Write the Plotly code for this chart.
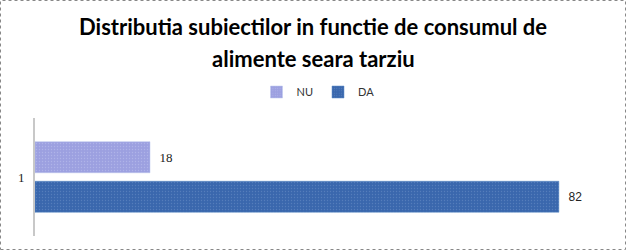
import plotly.graph_objects as go

categories = ["1"]
da_values = [82]
nu_values = [18]
title_lines = ["Distributia subiectilor in functie de consumul de", "alimente seara tarziu"]

colors = {"NU": "#9ca0e0", "DA": "#3a67ad"}

PLOT_TOP, PLOT_BOTTOM = 118, 236
H = PLOT_BOTTOM - PLOT_TOP


def py(px):
    return (PLOT_BOTTOM - px) / H


fig = go.Figure()
fig.add_trace(go.Bar(
    y=categories, x=da_values, name="DA", orientation="h",
    marker=dict(color=colors["DA"], line=dict(color="#5b8ac4", width=0.5),
                pattern=dict(shape=".", fgcolor="#6f93c9", size=3, solidity=0.15)),
    texttemplate="  %{x}", textposition="outside",
    textfont=dict(family="Liberation Sans", size=12, color="#222"),
    cliponaxis=False,
))
fig.add_trace(go.Bar(
    y=categories, x=nu_values, name="NU", orientation="h",
    marker=dict(color=colors["NU"], line=dict(color="#b8c4ec", width=0.5),
                pattern=dict(shape=".", fgcolor="#c2c6ef", size=3, solidity=0.15)),
    texttemplate="  %{x}", textposition="outside",
    textfont=dict(family="Liberation Serif", size=13, color="#222"),
    cliponaxis=False,
))

annotations = []
for i, line in enumerate(title_lines):
    annotations.append(dict(
        text="<b>" + line + "</b>", xref="paper", yref="paper",
        x=(313 - 35) / 575, xanchor="center", y=py(26 + 32 * i), yanchor="middle",
        showarrow=False, font=dict(family="Lato", size=22, color="#000"),
    ))

fig.update_layout(
    width=626, height=250,
    margin=dict(l=35, r=16, t=PLOT_TOP, b=250 - PLOT_BOTTOM),
    paper_bgcolor="white", plot_bgcolor="white",
    barmode="group", bargap=0.33, bargroupgap=0.215,
    annotations=annotations,
    legend=dict(orientation="h", x=(318 - 35) / 575, xanchor="center", y=py(92), yanchor="middle",
                traceorder="reversed", font=dict(family="Lato", size=11, color="#333"),
                itemwidth=30, bgcolor="rgba(0,0,0,0)"),
    xaxis=dict(range=[0, 90], showgrid=False, showticklabels=False, zeroline=False,
               showline=False, ticks=""),
    yaxis=dict(showgrid=False, showline=True, linecolor="#c8c8c8", linewidth=2,
               ticks="", tickfont=dict(family="Liberation Serif", size=13, color="#222"),
               ticklabelstandoff=6),
    shapes=[dict(type="rect", xref="paper", yref="paper", x0=-34.5 / 575, x1=1 + 15.5 / 575,
                 y0=-13.5 / H, y1=1 + 117.5 / H,
                 line=dict(color="#888", width=1, dash="dot"))],
    showlegend=True,
)

fig.write_html("out.html")
